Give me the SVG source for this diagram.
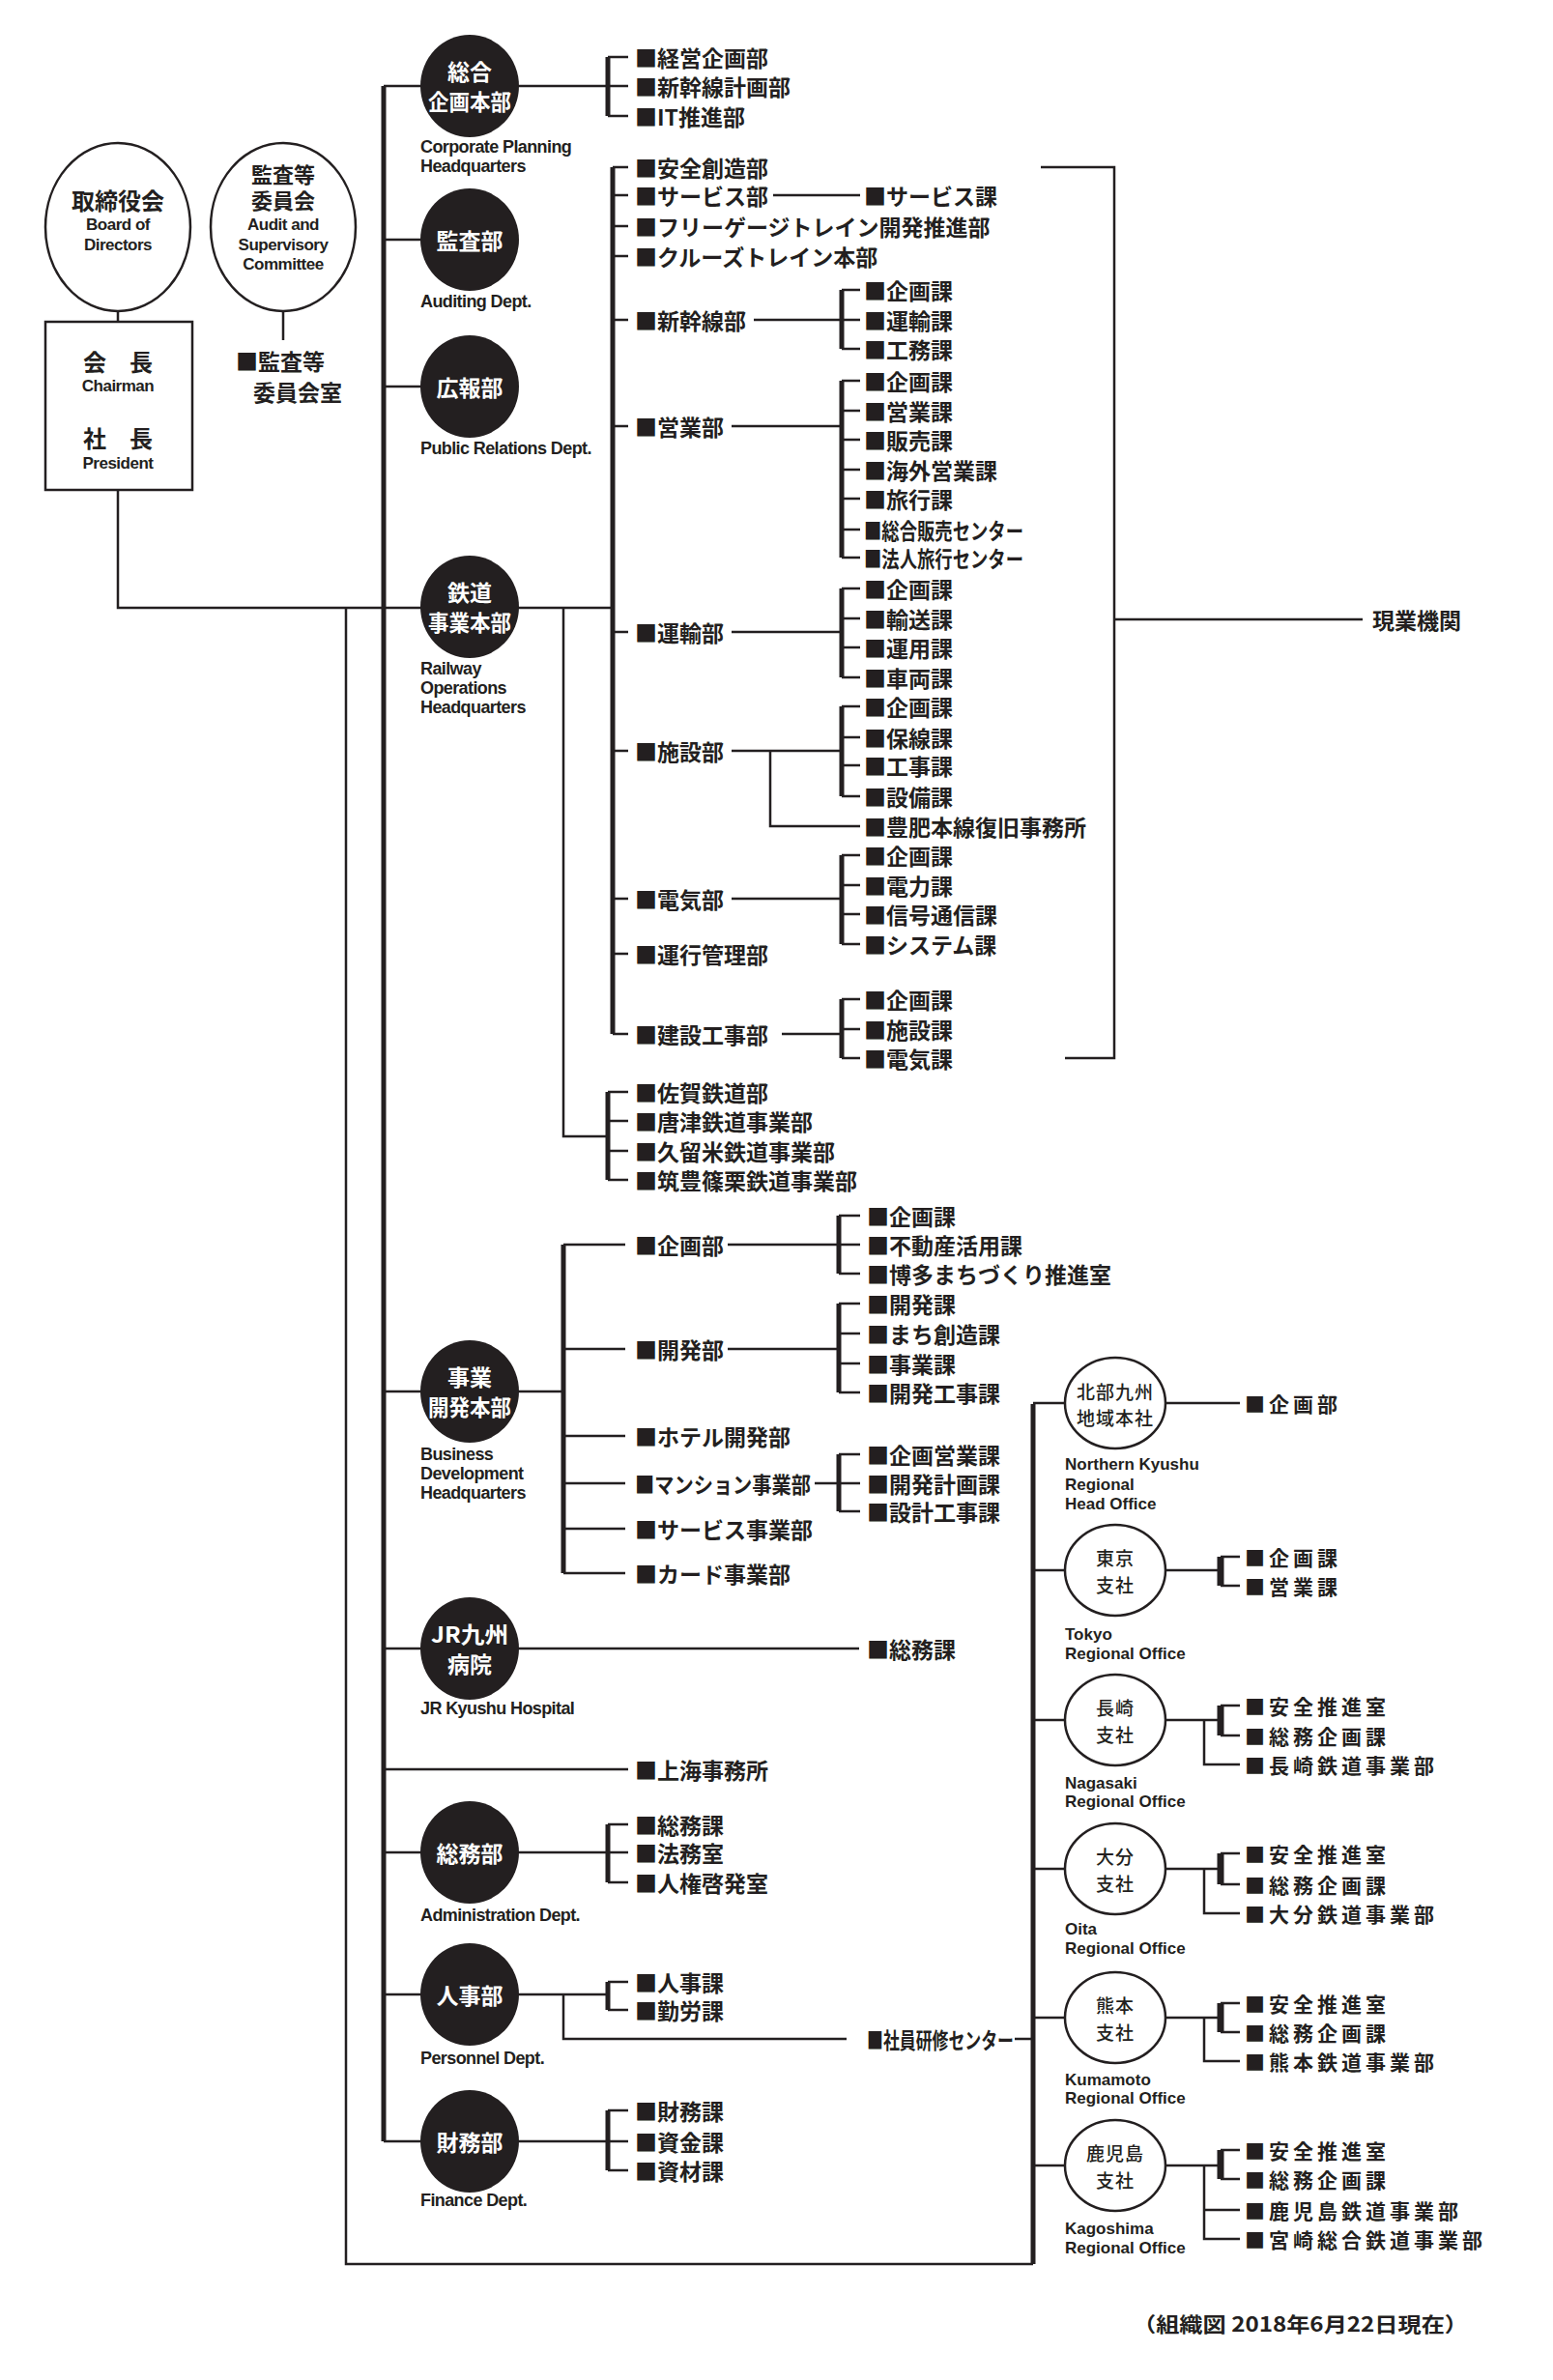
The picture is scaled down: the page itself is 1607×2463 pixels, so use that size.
<svg xmlns="http://www.w3.org/2000/svg" width="1607" height="2463" viewBox="0 0 1607 2463">
<style>
.t{font-family:"Noto Sans CJK JP",sans-serif;font-weight:bold;font-size:23px;fill:#231f20;dominant-baseline:central}
.s{font-family:"Noto Sans CJK JP",sans-serif;font-weight:bold;font-size:21px;fill:#231f20;dominant-baseline:central;letter-spacing:4px}
.w{font-family:"Noto Sans CJK JP",sans-serif;font-weight:bold;font-size:23px;fill:#fff;dominant-baseline:central;text-anchor:middle}
.k{font-family:"Noto Sans CJK JP",sans-serif;font-weight:bold;font-size:24px;fill:#231f20;dominant-baseline:central;text-anchor:middle}
.r{font-family:"Noto Sans CJK JP",sans-serif;font-weight:500;font-size:19px;fill:#231f20;dominant-baseline:central;text-anchor:middle;letter-spacing:1px}
.e{font-family:"Liberation Sans",Arial,sans-serif;font-weight:bold;font-size:18px;fill:#231f20;dominant-baseline:central;letter-spacing:-0.6px}
.ec{font-family:"Liberation Sans",Arial,sans-serif;font-weight:bold;font-size:17px;fill:#231f20;dominant-baseline:central;text-anchor:middle;letter-spacing:-0.5px}
.er{font-family:"Liberation Sans",Arial,sans-serif;font-weight:bold;font-size:17px;fill:#231f20;dominant-baseline:central}
.l{stroke:#231f20;stroke-width:2.5;fill:none}
.b{stroke:#231f20;stroke-width:5;fill:none}
.dot{fill:#231f20}
.ow{fill:#fff;stroke:#231f20;stroke-width:2.5}
</style>
<rect width="1607" height="2463" fill="#fff"/>
<g id="connectors">
<path class="l" d="M122 322V333M293 322V352M122 507V629H634M358 629V2343H1069"/>
<path class="b" d="M397 89V2216M1069 1453V2343"/>
<path class="l" d="M397 89H486M397 248H486M397 400H486M397 1440H486M397 1706H486M397 1831H650M397 1917H486M397 2064H486M397 2216H486"/>
<path class="l" d="M486 89H629M629 59H650M629 89H650M629 120H650"/>
<path class="b" d="M629 59V120"/>
<path class="b" d="M634 173V1070"/>
<path class="l" d="M634 173H650M634 202H650M634 234H650M634 265H650M634 331H650M634 441H650M634 654H650M634 777H650M634 930H650M634 987H650M634 1070H650"/>
<path class="l" d="M800 202H890"/>
<path class="l" d="M780 331H871M757 441H871M757 654H871M757 777H871M757 930H871M809 1070H871M797 777V855H890"/>
<path class="b" d="M871 300V361M871 394V577M871 609V701M871 731V824M871 885V977M871 1034V1095"/>
<path class="l" d="M871 300H890M871 331H890M871 361H890M871 394H890M871 425H890M871 455H890M871 486H890M871 516H890M871 548H890M871 577H890M871 609H890M871 640H890M871 670H890M871 701H890M871 731H890M871 763H890M871 792H890M871 824H890M871 885H890M871 916H890M871 946H890M871 977H890M871 1034H890M871 1065H890M871 1095H890"/>
<path class="l" d="M1077 173H1153V1095H1102M1153 641H1410"/>
<path class="l" d="M583 629V1176H629M629 1130H650M629 1160H650M629 1191H650M629 1221H650"/>
<path class="b" d="M629 1130V1221"/>
<path class="l" d="M486 1440H583"/>
<path class="b" d="M583 1288V1628"/>
<path class="l" d="M583 1288H647M583 1396H647M583 1486H647M583 1535H647M583 1582H647M583 1628H647"/>
<path class="l" d="M753 1288H868M753 1396H868M843 1535H868"/>
<path class="b" d="M868 1258V1318M868 1349V1441M868 1505V1564"/>
<path class="l" d="M868 1258H890M868 1288H890M868 1318H890M868 1349H890M868 1380H890M868 1411H890M868 1441H890M868 1505H890M868 1535H890M868 1564H890"/>
<path class="l" d="M486 1706H889"/>
<path class="l" d="M486 1917H629M629 1888H650M629 1917H650M629 1948H650"/>
<path class="b" d="M629 1888V1948M629 2051V2080M629 2184V2246"/>
<path class="l" d="M486 2064H629M629 2051H650M629 2080H650M583 2064V2110H876M1050 2110H1069"/>
<path class="l" d="M486 2216H629M629 2184H650M629 2216H650M629 2246H650"/>
<path class="l" d="M1069 1452H1102M1069 1625H1102M1069 1780H1102M1069 1934H1102M1069 2088H1102M1069 2241H1102"/>
<path class="l" d="M1206 1452H1283"/>
<path class="l" d="M1206 1625H1263M1263 1611H1283M1263 1641H1283"/>
<path class="l" d="M1206 1780H1263M1263 1765H1283M1263 1796H1283M1246 1780V1826H1283"/>
<path class="l" d="M1206 1934H1263M1263 1918H1283M1263 1950H1283M1246 1934V1980H1283"/>
<path class="l" d="M1206 2088H1263M1263 2073H1283M1263 2103H1283M1246 2088V2133H1283"/>
<path class="l" d="M1206 2241H1263M1263 2225H1283M1263 2255H1283M1246 2241V2317H1283M1246 2287H1283"/>
<path class="b" d="M1263 1611V1641M1263 1765V1796M1263 1918V1950M1263 2073V2103M1263 2225V2255" style="stroke-width:7"/>
</g>
<g id="board"><ellipse class="ow" cx="122" cy="235" rx="75" ry="87"/><text class="k" x="122" y="206">取締役会</text><text class="ec" x="122" y="232">Board of</text><text class="ec" x="122" y="253">Directors</text></g>
<g id="audit"><ellipse class="ow" cx="293" cy="235" rx="75" ry="87"/><text class="k" x="293" y="179" style="font-size:22px">監査等</text><text class="k" x="293" y="206" style="font-size:22px">委員会</text><text class="ec" x="293" y="232">Audit and</text><text class="ec" x="293" y="253">Supervisory</text><text class="ec" x="293" y="273">Committee</text></g>
<g id="chairman"><rect x="47" y="333" width="152" height="174" fill="#fff" stroke="#231f20" stroke-width="2.5"/><text class="k" x="122" y="373">会　長</text><text class="ec" x="122" y="399">Chairman</text><text class="k" x="122" y="452">社　長</text><text class="ec" x="122" y="479">President</text></g>
<g id="audit-office"><text class="t" x="244" y="373">■監査等</text><text class="t" x="262" y="405">委員会室</text></g>

<g id="corp"><ellipse class="dot" cx="486" cy="89" rx="51" ry="53"/><text class="w" x="486" y="73">総合</text><text class="w" x="486" y="104" textLength="86" lengthAdjust="spacingAndGlyphs">企画本部</text><text class="e" x="435" y="152">Corporate Planning</text><text class="e" x="435" y="172">Headquarters</text>
<text class="t" x="657" y="59">■経営企画部</text><text class="t" x="657" y="89">■新幹線計画部</text><text class="t" x="657" y="120">■IT推進部</text></g>
<g id="auditing"><ellipse class="dot" cx="486" cy="248" rx="51" ry="53"/><text class="w" x="486" y="248">監査部</text><text class="e" x="435" y="312">Auditing Dept.</text></g>
<g id="pr"><ellipse class="dot" cx="486" cy="400" rx="51" ry="53"/><text class="w" x="486" y="400">広報部</text><text class="e" x="435" y="464">Public Relations Dept.</text></g>
<g id="railway"><ellipse class="dot" cx="486" cy="628" rx="51" ry="53"/><text class="w" x="486" y="612">鉄道</text><text class="w" x="486" y="643" textLength="86" lengthAdjust="spacingAndGlyphs">事業本部</text><text class="e" x="435" y="692">Railway</text><text class="e" x="435" y="712">Operations</text><text class="e" x="435" y="732">Headquarters</text>
<text class="t" x="657" y="173">■安全創造部</text>
<text class="t" x="657" y="202">■サービス部</text><text class="t" x="894" y="202">■サービス課</text>
<text class="t" x="657" y="234">■フリーゲージトレイン開発推進部</text>
<text class="t" x="657" y="265">■クルーズトレイン本部</text>
<text class="t" x="657" y="331">■新幹線部</text>
<text class="t" x="894" y="300">■企画課</text><text class="t" x="894" y="331">■運輸課</text><text class="t" x="894" y="361">■工務課</text>
<text class="t" x="657" y="441">■営業部</text>
<text class="t" x="894" y="394">■企画課</text><text class="t" x="894" y="425">■営業課</text><text class="t" x="894" y="455">■販売課</text><text class="t" x="894" y="486">■海外営業課</text><text class="t" x="894" y="516">■旅行課</text><text class="t" x="894" y="548" textLength="165" lengthAdjust="spacingAndGlyphs">■総合販売センター</text><text class="t" x="894" y="577" textLength="165" lengthAdjust="spacingAndGlyphs">■法人旅行センター</text>
<text class="t" x="657" y="654">■運輸部</text>
<text class="t" x="894" y="609">■企画課</text><text class="t" x="894" y="640">■輸送課</text><text class="t" x="894" y="670">■運用課</text><text class="t" x="894" y="701">■車両課</text>
<text class="t" x="657" y="777">■施設部</text>
<text class="t" x="894" y="731">■企画課</text><text class="t" x="894" y="763">■保線課</text><text class="t" x="894" y="792">■工事課</text><text class="t" x="894" y="824">■設備課</text><text class="t" x="894" y="855">■豊肥本線復旧事務所</text>
<text class="t" x="657" y="930">■電気部</text>
<text class="t" x="894" y="885">■企画課</text><text class="t" x="894" y="916">■電力課</text><text class="t" x="894" y="946">■信号通信課</text><text class="t" x="894" y="977">■システム課</text>
<text class="t" x="657" y="987">■運行管理部</text>
<text class="t" x="657" y="1070">■建設工事部</text>
<text class="t" x="894" y="1034">■企画課</text><text class="t" x="894" y="1065">■施設課</text><text class="t" x="894" y="1095">■電気課</text>
<text class="t" x="1420" y="641">現業機関</text>
<text class="t" x="657" y="1130">■佐賀鉄道部</text><text class="t" x="657" y="1160">■唐津鉄道事業部</text><text class="t" x="657" y="1191">■久留米鉄道事業部</text><text class="t" x="657" y="1221">■筑豊篠栗鉄道事業部</text></g>
<g id="business"><ellipse class="dot" cx="486" cy="1440" rx="51" ry="53"/><text class="w" x="486" y="1424">事業</text><text class="w" x="486" y="1455" textLength="86" lengthAdjust="spacingAndGlyphs">開発本部</text><text class="e" x="435" y="1505">Business</text><text class="e" x="435" y="1525">Development</text><text class="e" x="435" y="1545">Headquarters</text>
<text class="t" x="657" y="1288">■企画部</text><text class="t" x="897" y="1258">■企画課</text><text class="t" x="897" y="1288">■不動産活用課</text><text class="t" x="897" y="1318">■博多まちづくり推進室</text>
<text class="t" x="657" y="1396">■開発部</text><text class="t" x="897" y="1349">■開発課</text><text class="t" x="897" y="1380">■まち創造課</text><text class="t" x="897" y="1411">■事業課</text><text class="t" x="897" y="1441">■開発工事課</text>
<text class="t" x="657" y="1486">■ホテル開発部</text>
<text class="t" x="657" y="1535" textLength="182" lengthAdjust="spacingAndGlyphs">■マンション事業部</text><text class="t" x="897" y="1505">■企画営業課</text><text class="t" x="897" y="1535">■開発計画課</text><text class="t" x="897" y="1564">■設計工事課</text>
<text class="t" x="657" y="1582">■サービス事業部</text>
<text class="t" x="657" y="1628">■カード事業部</text></g>
<g id="hospital"><ellipse class="dot" cx="486" cy="1706" rx="51" ry="53"/><text class="w" x="486" y="1690" textLength="80" lengthAdjust="spacingAndGlyphs">JR九州</text><text class="w" x="486" y="1721">病院</text><text class="e" x="435" y="1768">JR Kyushu Hospital</text><text class="t" x="897" y="1706">■総務課</text></g>
<g id="shanghai"><text class="t" x="657" y="1831">■上海事務所</text></g>
<g id="admin"><ellipse class="dot" cx="486" cy="1917" rx="51" ry="53"/><text class="w" x="486" y="1917">総務部</text><text class="e" x="435" y="1982">Administration Dept.</text><text class="t" x="657" y="1888">■総務課</text><text class="t" x="657" y="1917">■法務室</text><text class="t" x="657" y="1948">■人権啓発室</text></g>
<g id="personnel"><ellipse class="dot" cx="486" cy="2064" rx="51" ry="53"/><text class="w" x="486" y="2064">人事部</text><text class="e" x="435" y="2130">Personnel Dept.</text><text class="t" x="657" y="2051">■人事課</text><text class="t" x="657" y="2080">■勤労課</text><text class="t" x="897" y="2110" textLength="152" lengthAdjust="spacingAndGlyphs">■社員研修センター</text></g>
<g id="finance"><ellipse class="dot" cx="486" cy="2216" rx="51" ry="53"/><text class="w" x="486" y="2216">財務部</text><text class="e" x="435" y="2277">Finance Dept.</text><text class="t" x="657" y="2184">■財務課</text><text class="t" x="657" y="2216">■資金課</text><text class="t" x="657" y="2246">■資材課</text></g>
<g id="north"><ellipse class="ow" cx="1154" cy="1452" rx="52" ry="47"/><text class="r" x="1154" y="1439">北部九州</text><text class="r" x="1154" y="1466">地域本社</text><text class="er" x="1102" y="1515">Northern Kyushu</text><text class="er" x="1102" y="1536">Regional</text><text class="er" x="1102" y="1556">Head Office</text><text class="s" x="1288" y="1452">■企画部</text></g>
<g id="tokyo"><ellipse class="ow" cx="1154" cy="1625" rx="52" ry="47"/><text class="r" x="1154" y="1611">東京</text><text class="r" x="1154" y="1639">支社</text><text class="er" x="1102" y="1691">Tokyo</text><text class="er" x="1102" y="1711">Regional Office</text><text class="s" x="1288" y="1611">■企画課</text><text class="s" x="1288" y="1641">■営業課</text></g>
<g id="nagasaki"><ellipse class="ow" cx="1154" cy="1780" rx="52" ry="47"/><text class="r" x="1154" y="1766">長崎</text><text class="r" x="1154" y="1794">支社</text><text class="er" x="1102" y="1845">Nagasaki</text><text class="er" x="1102" y="1864">Regional Office</text><text class="s" x="1288" y="1765">■安全推進室</text><text class="s" x="1288" y="1796">■総務企画課</text><text class="s" x="1288" y="1826">■長崎鉄道事業部</text></g>
<g id="oita"><ellipse class="ow" cx="1154" cy="1934" rx="52" ry="47"/><text class="r" x="1154" y="1920">大分</text><text class="r" x="1154" y="1948">支社</text><text class="er" x="1102" y="1996">Oita</text><text class="er" x="1102" y="2016">Regional Office</text><text class="s" x="1288" y="1918">■安全推進室</text><text class="s" x="1288" y="1950">■総務企画課</text><text class="s" x="1288" y="1980">■大分鉄道事業部</text></g>
<g id="kumamoto"><ellipse class="ow" cx="1154" cy="2088" rx="52" ry="47"/><text class="r" x="1154" y="2074">熊本</text><text class="r" x="1154" y="2102">支社</text><text class="er" x="1102" y="2152">Kumamoto</text><text class="er" x="1102" y="2171">Regional Office</text><text class="s" x="1288" y="2073">■安全推進室</text><text class="s" x="1288" y="2103">■総務企画課</text><text class="s" x="1288" y="2133">■熊本鉄道事業部</text></g>
<g id="kagoshima"><ellipse class="ow" cx="1154" cy="2241" rx="52" ry="47"/><text class="r" x="1154" y="2227">鹿児島</text><text class="r" x="1154" y="2255">支社</text><text class="er" x="1102" y="2306">Kagoshima</text><text class="er" x="1102" y="2326">Regional Office</text><text class="s" x="1288" y="2225">■安全推進室</text><text class="s" x="1288" y="2255">■総務企画課</text><text class="s" x="1288" y="2287">■鹿児島鉄道事業部</text><text class="s" x="1288" y="2317">■宮崎総合鉄道事業部</text></g>
<text class="s" x="1172" y="2404" textLength="347" lengthAdjust="spacingAndGlyphs" style="letter-spacing:0">（組織図 2018年6月22日現在）</text>
</svg>
